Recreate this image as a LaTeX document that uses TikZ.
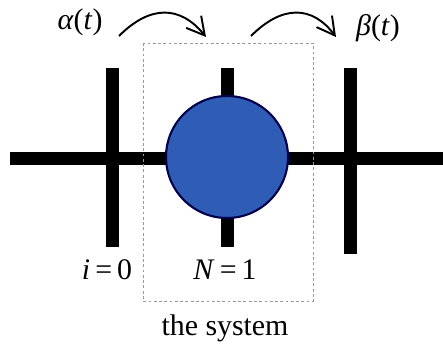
\documentclass[tikz,border=0pt]{standalone}
\usepackage{fontspec}
\setmainfont{Liberation Serif}
\usetikzlibrary{arrows.meta, positioning}
\definecolor{siteblue}{HTML}{2F5DB5}

\begin{document}
\begin{tikzpicture}[x=0.02cm, y=-0.02cm,
    bar/.style={line width=7.4pt, black},
    hop/.style={line width=1.1pt, -{Straight Barb[length=10pt, width=11pt, line width=1.1pt]}},
    lbl/.style={font=\fontsize{17}{20}\selectfont, inner sep=0pt}]
  \useasboundingbox (0,0) rectangle (443,347);

  % the chain of sites
  \coordinate (L) at (10,159);
  \coordinate (R) at (443,159);
  \draw[bar] (L) -- (R);
  \draw[bar] (112,68) -- (112,247);
  \draw[bar] (227,68) -- (227,247);
  \draw[bar] (350,68) -- (350,254);

  % the system box
  \draw[gray!80, line width=0.5pt, dash pattern=on 1.6pt off 1.4pt] (143,43) rectangle (313,301);

  % site N
  \node[circle, draw=blue!30!black, line width=1.2pt, fill=siteblue,
        minimum size=122*0.02cm, inner sep=0pt] (site) at (227,157) {};

  % labels
  \node[lbl] (alpha) at (80,22) {\textit{α}(\textit{t})};
  \node[lbl] (beta) at (378,28) {\textit{β}(\textit{t})};
  \node[lbl] (i0) at (107,270) {\textit{i}\,=\,0};
  \node[lbl] (N1) at (225,270) {\textit{N}\,=\,1};
  \node[lbl, below=19.5pt of N1] (sys) {the system};

  % hopping arrows
  \coordinate (a1) at (119,36);
  \coordinate (a2) at (206,37);
  \coordinate (b1) at (251,36);
  \coordinate (b2) at (336,37);
  \draw[hop] (a1) .. controls (150,5) and (180,5) .. (a2);
  \draw[hop] (b1) .. controls (282,5) and (312,5) .. (b2);
\end{tikzpicture}
\end{document}
